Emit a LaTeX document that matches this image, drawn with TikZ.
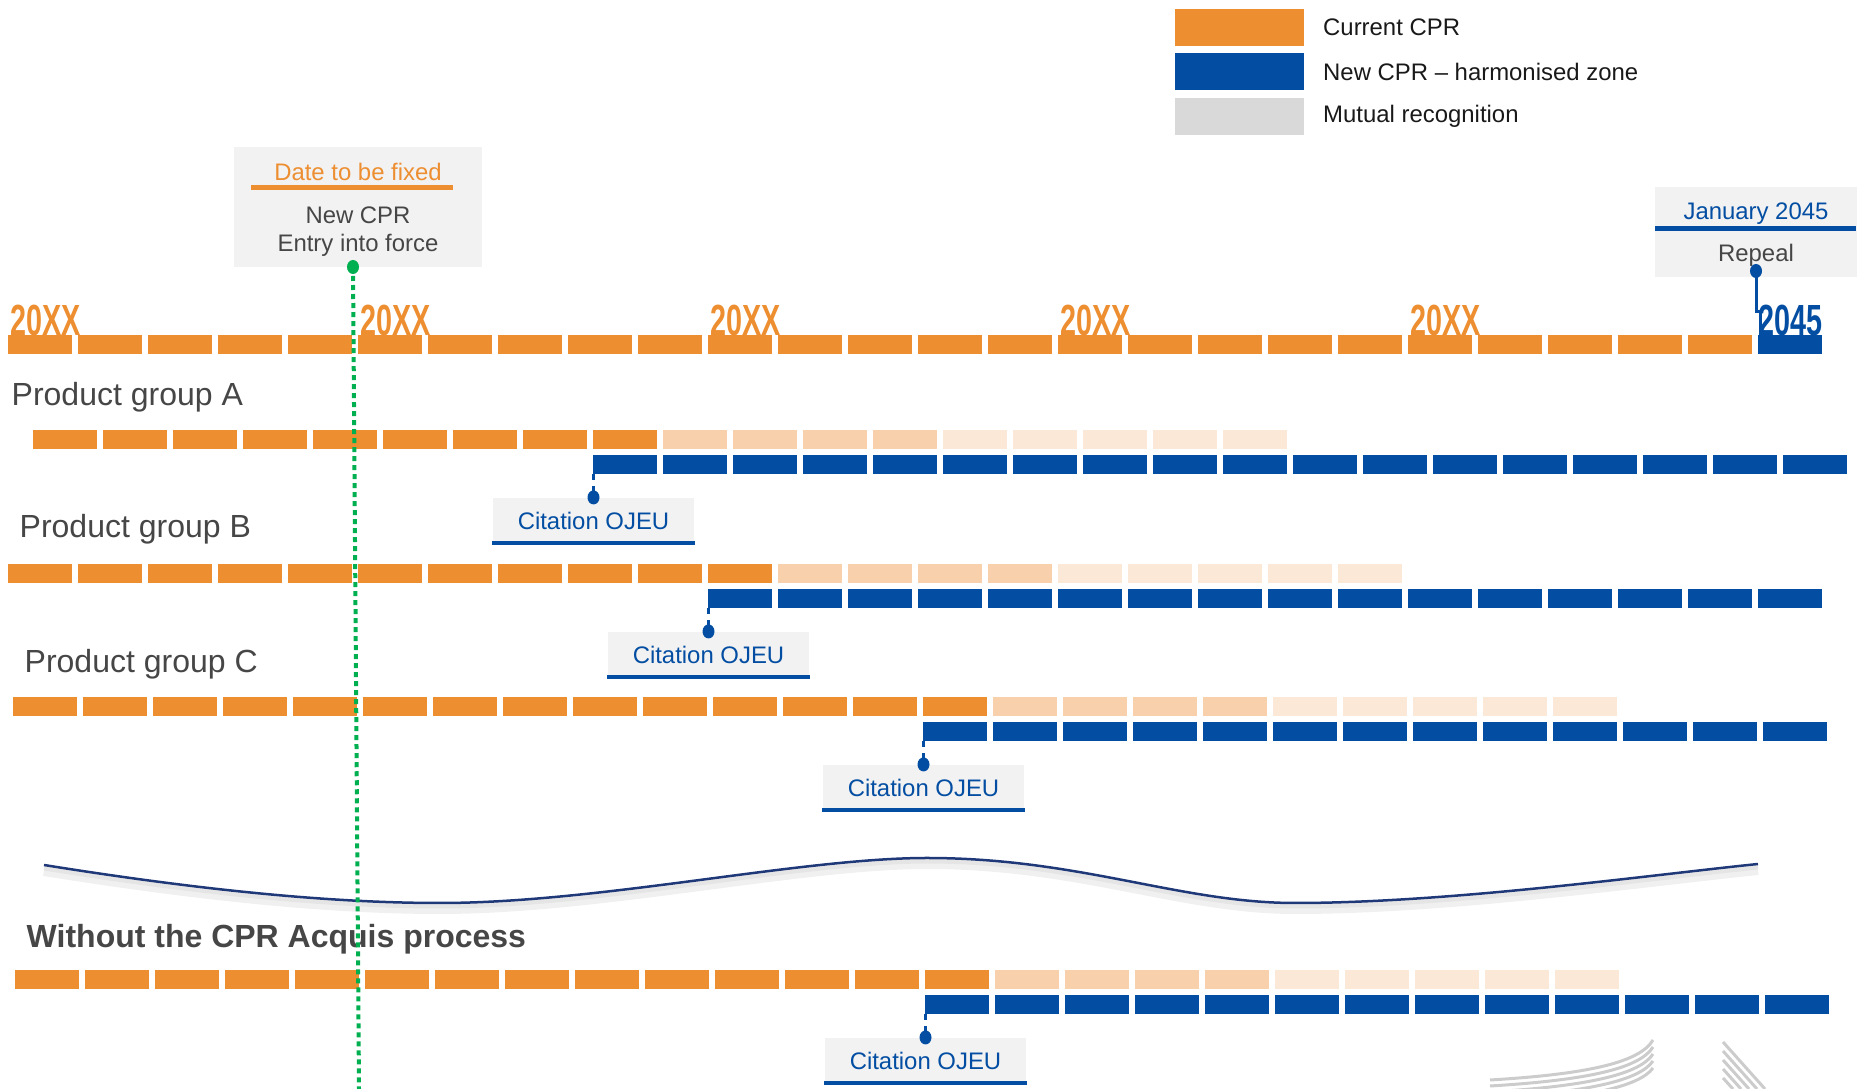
\documentclass[tikz,border=0pt]{standalone}
\usepackage{fontspec}
\setmainfont{Liberation Sans}
\newfontfamily\yearfont[FakeStretch=0.66]{Liberation Sans}
\usetikzlibrary{positioning,shapes}
\usepackage{xcolor}
\definecolor{cprorange}{RGB}{237, 142, 49}
\definecolor{peach}{RGB}{248, 208, 171}
\definecolor{pale}{RGB}{251, 232, 214}
\definecolor{cprblue}{RGB}{3, 78, 162}
\definecolor{boxgray}{RGB}{242, 242, 242}
\definecolor{legendgray}{RGB}{217, 217, 217}
\definecolor{textgray}{RGB}{70, 70, 70}
\definecolor{dotgreen}{RGB}{0, 176, 80}
\definecolor{wave}{RGB}{31, 56, 120}

\begin{document}
\begin{tikzpicture}[
        x=0.01cm, y=-0.01cm,
        seg/.style={rectangle, inner sep=0pt, minimum width=0.64cm, minimum height=0.19cm, anchor=north west},
        year/.style={anchor=base west, inner sep=0pt, font=\yearfont\bfseries\fontsize{12.4}{12}\selectfont},
        group/.style={anchor=base west, inner sep=0pt, text=textgray, font=\fontsize{9.1}{11}\selectfont},
        small/.style={inner sep=0pt, font=\fontsize{6.8}{8}\selectfont},
        infobox/.style={rectangle, fill=boxgray, inner sep=0pt},
        citebox/.style={infobox, anchor=north, minimum width=2.01cm, minimum height=0.46cm, text=cprblue, font=\fontsize{6.8}{8}\selectfont},
        legendbox/.style={rectangle, inner sep=0pt, anchor=north west, minimum width=1.29cm, minimum height=0.37cm},
        pin/.style={cprblue, line width=0.03cm}
    ]

        \useasboundingbox (0,0) rectangle (1863,1089);

        \node (l1) [legendbox, fill=cprorange] at (1174,8) {};
        \node (l2) [legendbox, fill=cprblue, below=0.06cm of l1] {};
        \node (l3) [legendbox, fill=legendgray, below=0.06cm of l2] {};
        \node (l1t) [small, text=black!90, right=0.18cm of l1] {Current CPR};
        \node (l2t) [small, text=black!90, right=0.18cm of l2] {New CPR -- harmonised zone};
        \node (l3t) [small, text=black!90, right=0.18cm of l3] {Mutual recognition};

        \node (date) [infobox, minimum width=2.47cm, minimum height=1.2cm] at (358,207) {};
        \node (date1) [small, text=cprorange] at (358,172) {Date to be fixed};
        \draw [cprorange, line width=0.05cm] (251,188) -- (453,188);
        \node (date2) [small, text=textgray, align=center] at (358,232) {New CPR\\Entry into force};
        \coordinate (gdot) at (353,267);

        \node (rep) [infobox, minimum width=2.01cm, minimum height=0.9cm] at (1756,232) {};
        \node (rep1) [small, text=cprblue] at (1756,214) {January 2045};
        \draw [cprblue, line width=0.05cm] (1655,229) -- (1856,229);
        \node (rep2) [small, text=textgray] at (1756,255) {Repeal};
        \coordinate (rdot) at (1756,271);

        \foreach \k in {0,...,24}
            \node (t\k) [seg, fill=cprorange] at ({7+70*\k},334) {};
        \node (t25) [seg, fill=cprblue] at (1757,334) {};
        \foreach \k in {0,5,...,20}
            \node (y\k) [year, text=cprorange] at ([xshift=0.03cm, yshift=-0.015cm]t\k.north west) {20XX};
        \node (y25) [year, text=cprblue] at ([xshift=0.01cm, yshift=-0.015cm]t25.north west) {2045};
        \draw [pin] (rdot) -- ++(0,41) -| ([xshift=0.03cm]t25.north west);
        \fill [cprblue] (rdot) ellipse (0.06cm and 0.07cm);

        \foreach \r/\ox/\oy/\n in {a/32/429/8, b/7/563/10, c/12/696/13, d/14/969/13} {
            \foreach \k in {0,...,25} {
                \pgfmathtruncatemacro\segd{\k-\n}
                \ifnum\segd<1 \def\segcol{cprorange}\else\ifnum\segd<5 \def\segcol{peach}\else\def\segcol{pale}\fi\fi
                \ifnum\segd<10 \node (\r o\k) [seg, fill=\segcol] at ({\ox+70*\k},\oy) {};\fi
                \ifnum\segd>-1 \node (\r b\k) [seg, fill=cprblue] at ({\ox+70*\k},\oy+25) {};\fi
            }
        }

        \node (ga) [group] at (11,406) {Product group A};
        \node (gb) [group] at (19,538) {Product group B};
        \node (gc) [group] at (24,673) {Product group C};
        \node (gd) [group, font=\bfseries\fontsize{9.1}{11}\selectfont] at (26,948) {Without the CPR Acquis process};

        \foreach \r/\n in {a/8, b/10, c/13, d/13} {
            \coordinate (dot\r) at ([xshift=0.015cm, yshift=-0.23cm]\r b\n.south west);
            \node (cite\r) [citebox] at (dot\r) {Citation OJEU};
            \draw [cprblue, line width=0.045cm] ([yshift=0.02cm]cite\r.south west) -- ([yshift=0.02cm]cite\r.south east);
            \draw [pin, dash pattern=on 0.06cm off 0.06cm on 0.3cm] (dot\r |- \r b\n.south) -- (dot\r);
            \fill [cprblue] (dot\r) ellipse (0.06cm and 0.07cm);
        }

        \draw [black!6, line width=0.11cm, yshift=-0.055cm] (44,865) .. controls (200,890) and (330,903) .. (440,903) .. controls (600,903) and (800,858) .. (927,858) .. controls (1080,858) and (1180,903) .. (1295,903) .. controls (1450,903) and (1650,875) .. (1758,864);
        \draw [black!10, line width=0.04cm, yshift=-0.035cm] (44,865) .. controls (200,890) and (330,903) .. (440,903) .. controls (600,903) and (800,858) .. (927,858) .. controls (1080,858) and (1180,903) .. (1295,903) .. controls (1450,903) and (1650,875) .. (1758,864);
        \draw [wave, line width=0.025cm] (44,865) .. controls (200,890) and (330,903) .. (440,903) .. controls (600,903) and (800,858) .. (927,858) .. controls (1080,858) and (1180,903) .. (1295,903) .. controls (1450,903) and (1650,875) .. (1758,864);

        \foreach \i in {0,...,4} {
            \draw [black!20, line width=0.03cm] (1490,{1080+6*\i}) .. controls (1590,{1074+6*\i}) and (1640,{1062+6*\i}) .. (1653,{1040+7*\i});
            \draw [black!20, line width=0.03cm] (1723,{1042+9*\i}) -- ({1765-8*\i},1089);
        }

        \draw [dotgreen, line width=0.04cm, dash pattern=on 0.05cm off 0.04cm] (gdot) -- (359,1089);
        \fill [dotgreen] (gdot) ellipse (0.06cm and 0.07cm);
    \end{tikzpicture}
\end{document}
